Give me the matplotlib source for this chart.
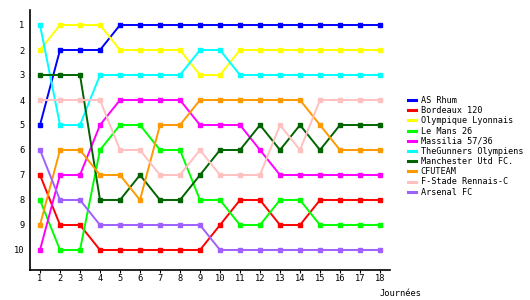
import matplotlib
matplotlib.use("Agg")
import matplotlib.pyplot as plt

# Classement par journée (1 = premier)
journees = list(range(1, 19))
teams = ["AS Rhum", "Bordeaux 120", "Olympique Lyonnais", "Le Mans 26",
         "Massilia 57/36", "TheGunners Olympiens", "Manchester Utd FC.",
         "CFUTEAM", "F-Stade Rennais-C", "Arsenal FC"]
colors = ["#0000FF", "#FF0000", "#FFFF00", "#00FF00", "#FF00FF",
          "#00FFFF", "#006400", "#FF9900", "#FFC0C0", "#A060FF"]

as_rhum = [5, 2, 2, 2, 1, 1, 1, 1, 1, 1, 1, 1, 1, 1, 1, 1, 1, 1]
bordeaux = [7, 9, 9, 10, 10, 10, 10, 10, 10, 9, 8, 8, 9, 9, 8, 8, 8, 8]
lyonnais = [2, 1, 1, 1, 2, 2, 2, 2, 3, 3, 2, 2, 2, 2, 2, 2, 2, 2]
le_mans = [8, 10, 10, 6, 5, 5, 6, 6, 8, 8, 9, 9, 8, 8, 9, 9, 9, 9]
massilia = [10, 7, 7, 5, 4, 4, 4, 4, 5, 5, 5, 6, 7, 7, 7, 7, 7, 7]
gunners = [1, 5, 5, 3, 3, 3, 3, 3, 2, 2, 3, 3, 3, 3, 3, 3, 3, 3]
manchester = [3, 3, 3, 8, 8, 7, 8, 8, 7, 6, 6, 5, 6, 5, 6, 5, 5, 5]
cfuteam = [9, 6, 6, 7, 7, 8, 5, 5, 4, 4, 4, 4, 4, 4, 5, 6, 6, 6]
rennais = [4, 4, 4, 4, 6, 6, 7, 7, 6, 7, 7, 7, 5, 6, 4, 4, 4, 4]
arsenal = [6, 8, 8, 9, 9, 9, 9, 9, 9, 10, 10, 10, 10, 10, 10, 10, 10, 10]

series = [as_rhum, bordeaux, lyonnais, le_mans, massilia,
          gunners, manchester, cfuteam, rennais, arsenal]

plt.rcParams['font.family'] = ['DejaVu Sans Mono']

fig = plt.figure(figsize=(5.3, 3.0), dpi=100)
ax = fig.add_axes([30 / 530, 30 / 300, 360 / 530, 260 / 300])

for name, col, vals in zip(teams, colors, series):
    ax.plot(journees, vals, color=col, lw=1.4, marker='s', ms=2.3,
            label=name, solid_joinstyle='miter')

ax.set_xlim(0.5, 18.5)
ax.set_ylim(10.8, 0.4)
ax.set_xticks(journees)
ax.set_yticks(range(1, 11))
ax.tick_params(axis='x', labelsize=6.3, length=2, pad=1)
ax.tick_params(axis='y', labelsize=6.3, length=0, pad=4)
for side in ("top", "right"):
    ax.spines[side].set_visible(False)
for side in ("left", "bottom"):
    ax.spines[side].set_linewidth(1.2)

fig.text(421 / 530, 1 - 293 / 300, "Journées", fontsize=6.3,
         ha='right', va='center')

fig.legend(loc='upper left', bbox_to_anchor=(408 / 530, 1 - 96 / 300),
           frameon=False, fontsize=6.1, handlelength=1.0, handletextpad=0.5,
           labelspacing=0.14, borderaxespad=0, borderpad=0)
leg = fig.legends[0]
for h in leg.legend_handles:
    h.set_marker('')
    h.set_linewidth(2.2)

fig.savefig("out.png", dpi=100)
